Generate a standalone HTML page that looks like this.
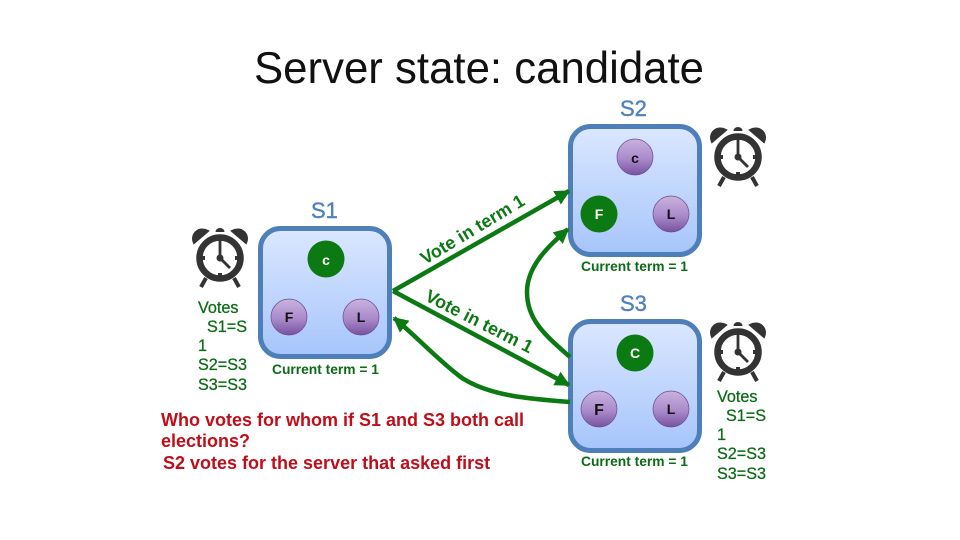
<!DOCTYPE html>
<html><head><meta charset="utf-8"><style>
html,body{margin:0;padding:0;background:#fff;width:960px;height:540px;overflow:hidden}
svg{display:block}
text{font-family:"Liberation Sans",sans-serif}
.t{font-size:13.800px;font-weight:bold;fill:#0b6b16}
.v{font-size:16.200px;fill:#0b6b16;stroke:#0b6b16;stroke-width:.25px}
.r{font-size:18px;font-weight:bold;fill:#c00d1a}
.s{font-size:22px;fill:#4f81bd;stroke:#4f81bd;stroke-width:.4px}
.a{font-size:18px;font-weight:bold;fill:#0b7a12}
.n{font-size:14px;font-weight:bold;text-anchor:middle}
</style></head><body>
<svg width="960" height="540" viewBox="0 0 960 540" xmlns="http://www.w3.org/2000/svg">
<defs>
<linearGradient id="bx" x1="0" y1="0" x2="0" y2="1"><stop offset="0" stop-color="#dbe7ff"/><stop offset="1" stop-color="#a6c5fb"/></linearGradient>
<linearGradient id="pu" x1="0" y1="0" x2="0" y2="1"><stop offset="0" stop-color="#c9b2df"/><stop offset=".55" stop-color="#aa8acb"/><stop offset="1" stop-color="#77529f"/></linearGradient>
<marker id="ah" viewBox="0 0 10 10" refX="9" refY="5" markerWidth="3.400" markerHeight="3.400" orient="auto" markerUnits="strokeWidth"><path d="M0 0L10 5L0 10z" fill="#0b7a12"/></marker>
<g id="clk">
<circle r="20.500" fill="#fff" stroke="#333" stroke-width="6.500"/>
<path d="M-26-15C-30-24-21-32-12-27z M26-15C30-24 21-32 12-27z" fill="#333" stroke="#333" stroke-width="2"/>
<path d="M-4.500-26a4.500 4 0 0 1 9 0z" fill="#333"/>
<path d="M-14 20L-19 29M14 20L19 29" stroke="#333" stroke-width="4" fill="none"/>
<path d="M0-18V0L10 10" stroke="#333" stroke-width="2.800" fill="none"/>
<circle r="3.500" fill="#333"/>
<path d="M-21 0h6M15 0h6M0 15v6" stroke="#333" stroke-width="4"/>
</g>
</defs>

<text x="254" y="83" font-size="44.500" fill="#111" textLength="450" lengthAdjust="spacingAndGlyphs">Server state: candidate</text>

<text class="s" x="311" y="218">S1</text>
<text class="s" x="620" y="116">S2</text>
<text class="s" x="620" y="311">S3</text>

<rect x="260.500" y="228.500" width="129" height="128" rx="20" fill="url(#bx)" stroke="#4f7fb9" stroke-width="5"/>
<rect x="570.500" y="126.500" width="129" height="128" rx="20" fill="url(#bx)" stroke="#4f7fb9" stroke-width="5"/>
<rect x="570.500" y="321.500" width="129" height="129" rx="20" fill="url(#bx)" stroke="#4f7fb9" stroke-width="5"/>

<circle cx="326" cy="259" r="18.500" fill="#0b7a12"/>
<circle cx="289" cy="317" r="18" fill="url(#pu)" stroke="#6a4a90" stroke-width=".7"/>
<circle cx="361" cy="317" r="18" fill="url(#pu)" stroke="#6a4a90" stroke-width=".7"/>
<circle cx="635" cy="157" r="18" fill="url(#pu)" stroke="#6a4a90" stroke-width=".7"/>
<circle cx="599" cy="214" r="18.500" fill="#0b7a12"/>
<circle cx="671" cy="214" r="18" fill="url(#pu)" stroke="#6a4a90" stroke-width=".7"/>
<circle cx="635" cy="353" r="18.500" fill="#0b7a12"/>
<circle cx="599" cy="409" r="18" fill="url(#pu)" stroke="#6a4a90" stroke-width=".7"/>
<circle cx="671" cy="409" r="18" fill="url(#pu)" stroke="#6a4a90" stroke-width=".7"/>

<text class="n" x="326" y="265" fill="#fff">c</text>
<text class="n" x="289" y="322" fill="#111">F</text>
<text class="n" x="361" y="322" fill="#111">L</text>
<text class="n" x="635" y="163" fill="#111">c</text>
<text class="n" x="599" y="219" fill="#fff">F</text>
<text class="n" x="671" y="219" fill="#111">L</text>
<text class="n" x="635" y="358" fill="#fff">C</text>
<text class="n" x="599" y="415" fill="#111" style="font-size:16px">F</text>
<text class="n" x="671" y="414" fill="#111">L</text>

<text class="t" x="272" y="374">Current term = 1</text>
<text class="t" x="581" y="271">Current term = 1</text>
<text class="t" x="581" y="466">Current term = 1</text>

<use href="#clk" x="220" y="258"/>
<use href="#clk" x="738" y="157"/>
<use href="#clk" x="738" y="352"/>

<g fill="none" stroke="#0b7a12" stroke-width="4.500">
<path d="M393 291L569 191" marker-end="url(#ah)"/>
<path d="M393 291L569 385" marker-end="url(#ah)"/>
<path d="M570 357C545 335 527 320 527 292C527 265 550 245 568 229" marker-end="url(#ah)"/>
<path d="M570 402C530 399 490 396 462 378C440 362 415 335 394 318" marker-end="url(#ah)"/>
</g>

<text class="a" transform="translate(425 265) rotate(-31)" textLength="118">Vote in term 1</text>
<text class="a" transform="translate(424 300) rotate(27)" textLength="118">Vote in term 1</text>

<g class="v">
<text x="198" y="313">Votes</text>
<text x="207" y="332">S1=S</text>
<text x="198" y="351">1</text>
<text x="198" y="370">S2=S3</text>
<text x="198" y="390">S3=S3</text>
<text x="717" y="402">Votes</text>
<text x="726" y="421">S1=S</text>
<text x="717" y="440">1</text>
<text x="717" y="459">S2=S3</text>
<text x="717" y="479">S3=S3</text>
</g>

<text class="r" x="161" y="426">Who votes for whom if S1 and S3 both call</text>
<text class="r" x="161" y="447">elections?</text>
<text class="r" x="163" y="469">S2 votes for the server that asked first</text>
</svg>
</body></html>
